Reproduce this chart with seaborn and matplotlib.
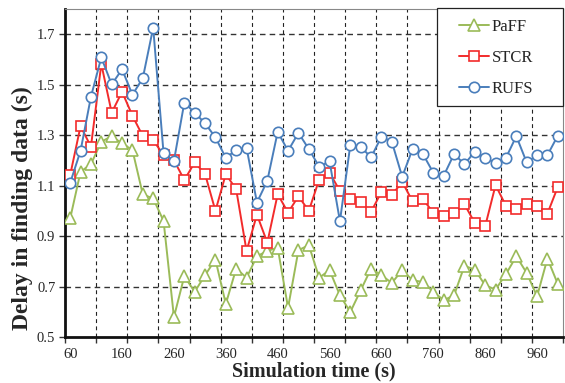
import numpy as np
import pandas as pd
import seaborn as sns
import matplotlib.pyplot as plt
from matplotlib.patches import Rectangle

# simulation time, one sample every 20 s
times = list(range(60, 1001, 20))

paff = [0.970, 1.155, 1.185, 1.274, 1.296, 1.267, 1.241, 1.065, 1.049, 0.960,
        0.579, 0.741, 0.679, 0.745, 0.807, 0.631, 0.771, 0.735, 0.820, 0.841,
        0.854, 0.616, 0.844, 0.864, 0.735, 0.765, 0.665, 0.599, 0.685, 0.771,
        0.745, 0.714, 0.765, 0.725, 0.718, 0.679, 0.646, 0.665, 0.782, 0.767,
        0.705, 0.688, 0.749, 0.820, 0.754, 0.661, 0.811, 0.710]
stcr = [1.142, 1.336, 1.254, 1.582, 1.389, 1.472, 1.377, 1.296, 1.280, 1.221,
        1.201, 1.122, 1.192, 1.146, 1.000, 1.146, 1.085, 0.841, 0.985, 0.874,
        1.066, 0.993, 1.058, 1.000, 1.124, 1.151, 1.079, 1.045, 1.036, 0.996,
        1.075, 1.062, 1.115, 1.038, 1.046, 0.993, 0.980, 0.992, 1.026, 0.952,
        0.939, 1.102, 1.020, 1.009, 1.026, 1.020, 0.989, 1.095]
rufs = [1.111, 1.238, 1.452, 1.608, 1.501, 1.561, 1.460, 1.526, 1.726, 1.228,
        1.198, 1.429, 1.389, 1.347, 1.291, 1.210, 1.241, 1.250, 1.033, 1.119,
        1.313, 1.238, 1.309, 1.245, 1.175, 1.196, 0.959, 1.261, 1.254, 1.212,
        1.294, 1.274, 1.135, 1.245, 1.225, 1.151, 1.139, 1.225, 1.185, 1.234,
        1.210, 1.190, 1.210, 1.296, 1.192, 1.221, 1.221, 1.298]

x_labels = list(range(60, 961, 100))
y_ticks = [0.5, 0.7, 0.9, 1.1, 1.3, 1.5, 1.7]

df = pd.DataFrame({"time": times, "PaFF": paff, "STCR": stcr, "RUFS": rufs})

sns.set_style("white")
plt.rcParams["font.family"] = ["Liberation Serif", "DejaVu Serif"]

W, H = 565, 383
fig = plt.figure(figsize=(W / 100, H / 100), dpi=100)
ax = fig.add_axes([65 / W, 1 - 337 / H, 498 / W, 328 / H])

series = [("PaFF", "#9BBB59", "^", 8),
          ("STCR", "#F22B2B", "s", 7),
          ("RUFS", "#4A7EBB", "o", 7.5)]
for name, col, mk, ms in series:
    sns.lineplot(data=df, x="time", y=name, ax=ax, color=col, marker=mk,
                 markersize=ms, mfc="white", mec=col, mew=1.2, lw=1.4,
                 label=name, zorder=3)

ax.set_xlim(50, 1010)
ax.set_ylim(0.5, 1.8)
ax.set_xticks(x_labels)
ax.set_xticklabels([str(v) for v in x_labels])
ax.set_xticks(list(range(50, 1011, 60)), minor=True)
ax.set_yticks(y_ticks)
ax.set_yticklabels([f"{v:.1f}" for v in y_ticks])

ax.tick_params(axis="x", which="major", length=0, labelsize=10.5, pad=8)
ax.tick_params(axis="x", which="minor", length=4, width=1, direction="out",
               color="#333333")
ax.tick_params(axis="y", length=4, width=1, direction="out", labelsize=10.5,
               color="#333333", pad=3)
ax.xaxis.set_ticks_position("bottom")
ax.yaxis.set_ticks_position("left")

ax.grid(False)
for y in y_ticks[1:]:
    ax.axhline(y, color="#333333", lw=1.0, ls=(0, (4, 3)), zorder=1)
for x in range(110, 1010, 60):
    ax.axvline(x, color="#222222", lw=0.8, ls=(0, (3.5, 3)), zorder=1)

for s in ["left", "bottom"]:
    ax.spines[s].set_color("#111111")
    ax.spines[s].set_linewidth(2)
for s in ["top", "right"]:
    ax.spines[s].set_color("#888888")
    ax.spines[s].set_linewidth(0.8)

ax.set_xlabel("Simulation time (s)", fontsize=14.5, fontweight="bold")
ax.xaxis.set_label_coords(0.5, (337 - 361) / 328)
ax.set_ylabel("Delay in finding data (s)", fontsize=17, fontweight="bold")
ax.yaxis.set_label_coords((33 - 65) / 498, (337 - 208) / 328)

# legend box sits in the top right corner of the plot
ax.add_patch(Rectangle((437 / W, 1 - 106 / H), 126 / W, 98 / H,
                       transform=fig.transFigure, facecolor="white",
                       edgecolor="#222222", lw=0.9, zorder=4, clip_on=False))
leg = ax.legend(loc="upper left", bbox_to_anchor=(459 / W, 1 - 19 / H),
                bbox_transform=fig.transFigure, fontsize=12, frameon=False,
                borderaxespad=0, borderpad=0, labelspacing=0.9,
                handlelength=1.8, handletextpad=0.15)
leg.set_zorder(5)

fig.savefig("out.png", dpi=100)
